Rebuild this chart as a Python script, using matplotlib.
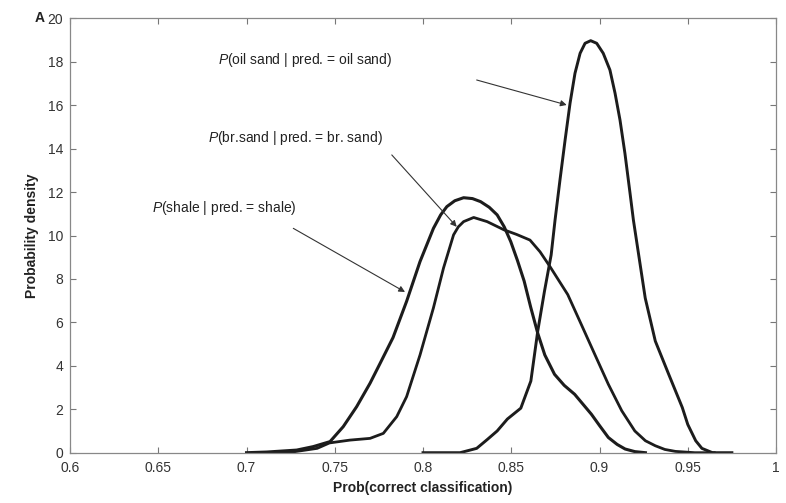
import matplotlib
matplotlib.use("Agg")
import matplotlib.pyplot as plt

plt.rcParams['font.family'] = ['Liberation Sans', 'DejaVu Sans']
plt.rcParams['mathtext.fontset'] = 'custom'
plt.rcParams['mathtext.rm'] = 'Liberation Sans'
plt.rcParams['mathtext.it'] = 'Liberation Sans:italic'

# curves (x = prob. of correct classification, y = density)
shale_x = [0.700, 0.7114, 0.7284, 0.7378, 0.7473, 0.7548, 0.7624, 0.770, 0.7756,
           0.783, 0.7907, 0.7983, 0.8059, 0.810, 0.8135, 0.818, 0.823, 0.828,
           0.8326, 0.8375, 0.842, 0.846, 0.8497, 0.8535, 0.8573, 0.861, 0.865,
           0.869, 0.8745, 0.880, 0.8859, 0.8954, 0.900, 0.905, 0.910, 0.9145,
           0.920, 0.926]
shale_y = [0.0, 0.03, 0.12, 0.28, 0.51, 1.2, 2.12, 3.2, 4.1,
           5.3, 6.97, 8.8, 10.33, 10.95, 11.33, 11.6, 11.74, 11.7,
           11.56, 11.3, 10.95, 10.4, 9.72, 8.85, 7.9, 6.7, 5.5,
           4.5, 3.61, 3.1, 2.69, 1.77, 1.25, 0.70, 0.38, 0.17,
           0.05, 0.0]

brsand_x = [0.705, 0.725, 0.740, 0.747, 0.7586, 0.770, 0.7775, 0.7851, 0.7907,
            0.7983, 0.8059, 0.8116, 0.8173, 0.820, 0.823, 0.8287, 0.8363, 0.8459,
            0.853, 0.8606, 0.8663, 0.872, 0.882, 0.8897, 0.8973, 0.905, 0.9126,
            0.920, 0.926, 0.9316, 0.937, 0.943, 0.954, 0.965]
brsand_y = [0.0, 0.02, 0.2, 0.45, 0.58, 0.66, 0.89, 1.66, 2.58,
            4.5, 6.67, 8.5, 10.03, 10.4, 10.64, 10.83, 10.64, 10.26,
            10.05, 9.79, 9.25, 8.56, 7.28, 5.9, 4.53, 3.15, 1.93,
            1.0, 0.55, 0.32, 0.15, 0.06, 0.0, 0.0]

oil_x = [0.800, 0.821, 0.8304, 0.8363, 0.842, 0.8478, 0.8554, 0.8611, 0.865,
         0.8688, 0.8726, 0.8748, 0.8776, 0.8805, 0.8833, 0.8861, 0.889, 0.8918,
         0.895, 0.8984, 0.9021, 0.9059, 0.9088, 0.9116, 0.9144, 0.9173, 0.9192,
         0.9259, 0.9316, 0.9392, 0.9469, 0.950, 0.9545, 0.958, 0.964, 0.975]
oil_y = [0.0, 0.0, 0.2, 0.6, 1.0, 1.55, 2.05, 3.3, 5.6,
         7.43, 9.11, 10.71, 12.56, 14.4, 16.09, 17.47, 18.39, 18.85,
         18.97, 18.85, 18.39, 17.62, 16.55, 15.32, 13.78, 11.94, 10.71,
         7.12, 5.14, 3.61, 2.08, 1.3, 0.55, 0.2, 0.0, 0.0]

labels = [r'$\mathit{P}$(oil sand | pred. = oil sand)',
          r'$\mathit{P}$(br.sand | pred. = br. sand)',
          r'$\mathit{P}$(shale | pred. = shale)']
label_pos = [(0.6839, 18.08), (0.6782, 14.49), (0.6465, 11.27)]
arrow_from = [(0.8304, 17.16), (0.7823, 13.71), (0.7265, 10.33)]
arrow_to = [(0.8814, 16.01), (0.8191, 10.40), (0.7898, 7.40)]

xticks = [0.6, 0.65, 0.7, 0.75, 0.8, 0.85, 0.9, 0.95, 1]
xticklabels = ['0.6', '0.65', '0.7', '0.75', '0.8', '0.85', '0.9', '0.95', '1']
yticks = list(range(0, 21, 2))

fig = plt.figure(figsize=(7.86, 5.03), dpi=100)
ax = fig.add_axes([0.0891, 0.1, 0.8982, 0.8636])

lc = '#1c1c1c'
ax.plot(shale_x, shale_y, color=lc, lw=2.2, solid_joinstyle='round')
ax.plot(brsand_x, brsand_y, color=lc, lw=2.0, solid_joinstyle='round')
ax.plot(oil_x, oil_y, color=lc, lw=2.1, solid_joinstyle='round')

for txt, pos, a, b in zip(labels, label_pos, arrow_from, arrow_to):
    ax.text(pos[0], pos[1], txt, fontsize=10, color='#222222', ha='left', va='center')
    ax.annotate('', xy=b, xytext=a,
                arrowprops=dict(arrowstyle='-|>', color='#333333', lw=0.8,
                                mutation_scale=9, shrinkA=0, shrinkB=0))

ax.set_xlim(0.6, 1)
ax.set_ylim(0, 20)
ax.set_xticks(xticks)
ax.set_xticklabels(xticklabels)
ax.set_yticks(yticks)
ax.tick_params(direction='in', top=True, right=True, length=4, width=0.8,
               labelsize=10, labelcolor='#333333', color='#777777')
ax.tick_params(axis='x', pad=6)
ax.tick_params(axis='y', pad=5)
for s in ax.spines.values():
    s.set_color('#888888')
    s.set_linewidth(0.9)

ax.set_xlabel('Prob(correct classification)', fontsize=10, fontweight='bold',
              color='#222222', labelpad=4)
ax.set_ylabel('Probability density', fontsize=10, fontweight='bold',
              color='#222222', labelpad=6)
fig.text(0.051, 0.965, 'A', fontsize=10, fontweight='bold', color='#222222',
         ha='center', va='center')

fig.savefig('out.png', dpi=100)
